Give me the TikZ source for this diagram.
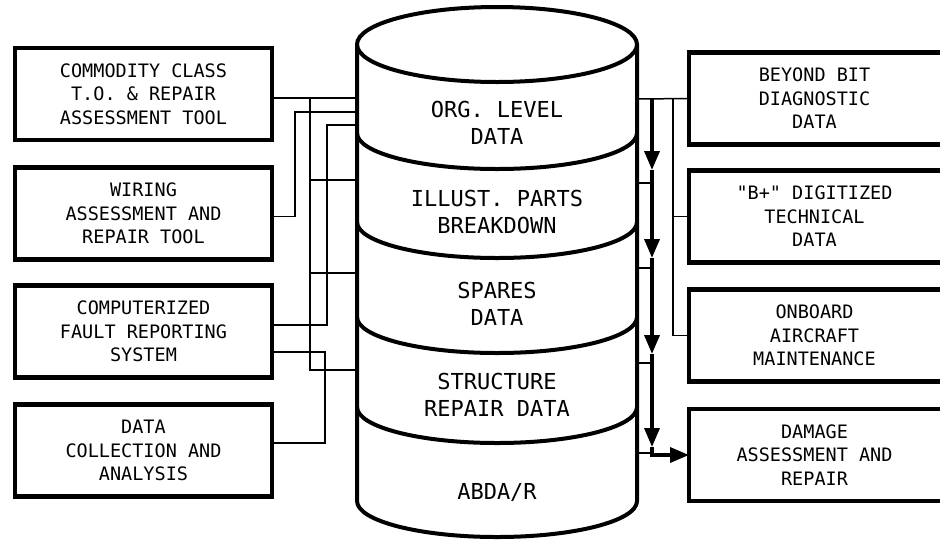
\documentclass[tikz,border=0pt]{standalone}
\usepackage{fontspec}
\usepackage{tikz}
\usetikzlibrary{positioning, arrows.meta}
\newfontfamily\stencil{DejaVu Sans Mono}
\tikzset{
    srcbox/.style={draw, line width=4.5pt, minimum width=257pt, minimum height=92pt, inner sep=0pt, align=center, font=\stencil\fontsize{18.5}{23.5}\selectfont},
    outbox/.style={minimum width=251pt, minimum height=92pt, inner sep=0pt, outer sep=0pt, align=center, font=\stencil\fontsize{18.5}{23.5}\selectfont},
    boxside/.style={line width=4.5pt},
    bandtext/.style={align=center, font=\stencil\fontsize{22}{27}\selectfont},
    cylline/.style={line width=4pt},
    wire/.style={line width=1.5pt},
    bus/.style={line width=3.5pt},
    flowtip/.style={-{Triangle[length=19pt 0, width=15pt 0]}}
}
\begin{document}
\begin{tikzpicture}[x=1pt, y=-1pt]
    \useasboundingbox (0,0) rectangle (940,539);
    % Sources
    \node[srcbox] (cct) at (143.5, 94) {COMMODITY CLASS\\T.O. \& REPAIR\\ASSESSMENT TOOL};
    \node[srcbox] (wart) at (143.5, 213.5) {WIRING\\ASSESSMENT AND\\REPAIR TOOL};
    \node[srcbox] (cfrs) at (143.5, 331.5) {COMPUTERIZED\\FAULT REPORTING\\SYSTEM};
    \node[srcbox] (dca) at (143.5, 450.5) {DATA\\COLLECTION AND\\ANALYSIS};

    % Users
    \node[outbox] (bit) at (814.5, 98.5) {BEYOND BIT\\DIAGNOSTIC\\DATA};
    \node[outbox] (bplus) at (814.5, 216.5) {"B+" DIGITIZED\\TECHNICAL\\DATA};
    \node[outbox] (onboard) at (814.5, 335.5) {ONBOARD\\AIRCRAFT\\MAINTENANCE};
    \node[outbox] (damage) at (814.5, 455) {DAMAGE\\ASSESSMENT AND\\REPAIR};
    \foreach \n in {bit, bplus, onboard, damage}
        \draw[boxside] (\n.north east) -- (\n.north west) -- (\n.south west) -- (\n.south east);

    % Database
    \draw[cylline] (497,44.5) ellipse [x radius=140, y radius=37.5];
    \draw[cylline] (357,44.5) -- (357,501) arc[start angle=180, end angle=0, x radius=140, y radius=36] -- (637,44.5);
    \foreach \y in {133, 222, 317, 407}
        \draw[cylline] (357,\y) arc[start angle=180, end angle=0, x radius=140, y radius=36];
    \node[bandtext] (org) at (497, 123) {ORG. LEVEL\\DATA};
    \node[bandtext] (ipb) at (497, 212) {ILLUST. PARTS\\BREAKDOWN};
    \node[bandtext] (spares) at (497, 304) {SPARES\\DATA};
    \node[bandtext] (srd) at (497, 395) {STRUCTURE\\REPAIR DATA};
    \node[bandtext] (abda) at (497, 492) {ABDA/R};

    % Inputs
    \draw[wire] ([yshift=-4pt]cct.east) -- (357,98);
    \draw[wire] (310,98) -- (310,370) -- (357,370);
    \draw[wire] (310,180) -- (357,180);
    \draw[wire] (310,273) -- (357,273);
    \draw[wire] ([yshift=-3pt]wart.east) -| (295,112) -- (357,112);
    \draw[wire] ([yshift=6.5pt]cfrs.east) -| (327,125) -- (357,125);
    \draw[wire] ([yshift=-20.5pt]cfrs.east) -| (325,370);
    \draw[wire] ([yshift=7.5pt]dca.east) -| (325,370);

    % Outputs
    \draw[wire] (637,99) -- (bit.west);
    \draw[wire] (673,99) |- (bplus.west);
    \draw[wire] (673,216.5) |- (onboard.west);
    \foreach \y in {183, 268, 363, 453}
        \draw[wire] (637,\y) -- (652,\y);
    \draw[bus, flowtip] (652,99) -- (652,170);
    \draw[bus, flowtip] (652,170) -- (652,258);
    \draw[bus, flowtip] (652,258) -- (652,354);
    \draw[bus, flowtip] (652,354) -- (652,447);
    \draw[bus, flowtip] (652,447) |- (damage.west);
\end{tikzpicture}
\end{document}
